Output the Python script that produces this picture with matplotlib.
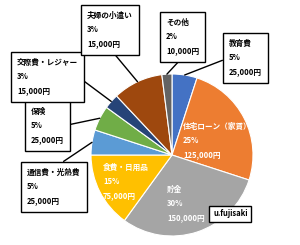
import numpy as np
import matplotlib.pyplot as plt

plt.rcParams['font.family'] = ['Noto Sans CJK JP', 'DejaVu Sans']

# 家計の内訳
categories = ['教育費', '住宅ローン（家賃）', '貯金', '食費・日用品', '通信費・光熱費',
              '保険', '交際費・レジャー', '夫婦の小遣い', 'その他']
shares = [5, 25, 30, 15, 5, 5, 3, 10, 2]  # slice sizes as drawn
pct_labels = ['5%', '25%', '30%', '15%', '5%', '5%', '3%', '3%', '2%']
yen_labels = ['25,000円', '125,000円', '150,000円', '75,000円', '25,000円',
              '25,000円', '15,000円', '15,000円', '10,000円']
colors = ['#4472C4', '#ED7D31', '#A5A5A5', '#FFC000', '#5B9BD5',
          '#70AD47', '#264478', '#9E480E', '#636363']

H = 245
cx, cy, r = 172, H - 155, 81

fig = plt.figure(figsize=(3.0, 2.45), dpi=100)
ax = fig.add_axes([0, 0, 1, 1])
ax.pie(shares, colors=colors, startangle=90, counterclock=False,
       center=(cx, cy), radius=r,
       wedgeprops=dict(edgecolor='white', linewidth=0.8))
ax.set_xlim(0, 300)
ax.set_ylim(0, H)
ax.axis('off')

# 白文字（扇形の内側）
inside = {1: (183, 122), 2: (167, 185), 3: (103, 163)}
# 吹き出し（枠付き）: 文字の左上, 引き出し線の始点
boxed = {0: ((229, 39), (0, 0.5)), 4: ((27, 168), (0.5, 1)), 5: ((31, 107), (1, 0.5)),
         6: ((17, 58), (1, 0.5)), 7: ((87, 11), (0.5, 0)), 8: ((166, 18), (0.55, 0))}

total = sum(shares)
cum = np.cumsum([0] + shares)
for i, name in enumerate(categories):
    txt = f'{name}\n{pct_labels[i]}\n{yen_labels[i]}'
    if i in inside:
        x, y = inside[i]
        ax.text(x, H - y, txt, color='white', fontsize=5.5, fontweight='bold',
                ha='left', va='top', linespacing=1.75)
    else:
        mid = np.deg2rad(90 - 360 * (cum[i] + shares[i] / 2) / total)
        px, py = cx + r * np.cos(mid), cy + r * np.sin(mid)
        (x, y), rel = boxed[i]
        ax.annotate(txt, xy=(px, py), xytext=(x, H - y), fontsize=5.5, fontweight='bold',
                    ha='left', va='top', linespacing=1.75,
                    bbox=dict(boxstyle='square,pad=0.8', fc='white', ec='black', lw=1),
                    arrowprops=dict(arrowstyle='-', color='black', lw=1, relpos=rel,
                                    shrinkA=0, shrinkB=0))

ax.text(213, H - 214, 'u.fujisaki', fontsize=5.5, fontweight='bold', ha='left', va='center',
        bbox=dict(boxstyle='square,pad=0.5', fc='white', ec='black', lw=1))

plt.savefig('out.png', dpi=100)
